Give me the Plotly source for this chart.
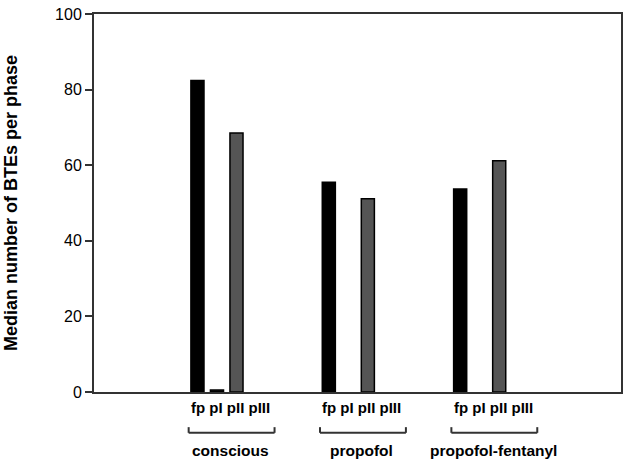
import plotly.graph_objects as go

groups = ["conscious", "propofol", "propofol-fentanyl"]
phases = ["fp", "pI", "pII", "pIII"]
values = {
    "fp":   [82.4, 55.5, 53.7],
    "pI":   [0.5, 0.0, 0.0],
    "pII":  [68.5, 51.1, 61.2],
    "pIII": [0.0, 0.0, 0.0],
}
phase_colors = {"fp": "#000000", "pI": "#000000", "pII": "#555555", "pIII": "#555555"}
y_ticks = [0, 20, 40, 60, 80, 100]

FONT = "Liberation Sans, Arial, Helvetica, sans-serif"
first = 5.3
gstep = 6.73

def pos(g, p):
    return first + g * gstep + p

fig = go.Figure()
for pi, ph in enumerate(phases):
    fig.add_trace(go.Bar(
        x=[pos(g, pi) for g in range(len(groups))],
        y=[v if v > 0 else None for v in values[ph]],
        width=0.67,
        marker=dict(color=phase_colors[ph], line=dict(color="#000000", width=1.5)),
        name=ph,
        showlegend=False,
    ))

shapes = []
annotations = []
lc = "#333333"
for g, name in enumerate(groups):
    x0 = pos(g, 0) - 0.45
    x1 = pos(g, 0) + 3.95
    yb, yt = -0.108, -0.093
    shapes.append(dict(type="line", xref="x", yref="paper", x0=x0, x1=x1, y0=yb, y1=yb,
                       line=dict(color=lc, width=2)))
    shapes.append(dict(type="line", xref="x", yref="paper", x0=x0, x1=x0, y0=yb, y1=yt,
                       line=dict(color=lc, width=2)))
    shapes.append(dict(type="line", xref="x", yref="paper", x0=x1, x1=x1, y0=yb, y1=yt,
                       line=dict(color=lc, width=2)))
    annotations.append(dict(text="<b>%s</b>" % " ".join(phases), xref="x", yref="paper",
                            x=pos(g, 0) + 1.7, y=-0.042, showarrow=False,
                            xanchor="center", yanchor="middle",
                            font=dict(family=FONT, size=15, color="#000000")))
    annotations.append(dict(text="<b>%s</b>" % name, xref="x", yref="paper",
                            x=(x0 + x1) / 2 - 0.05, y=-0.156, showarrow=False,
                            xanchor="center", yanchor="middle",
                            font=dict(family=FONT, size=15.5, color="#000000")))

fig.update_layout(
    width=628, height=461,
    margin=dict(l=94, r=7, t=14, b=69),
    paper_bgcolor="white", plot_bgcolor="white",
    barmode="overlay",
    font=dict(family=FONT, color="#000000"),
    shapes=shapes, annotations=annotations,
    xaxis=dict(range=[0, 27], showticklabels=False, automargin=False,
               ticks="", showgrid=False, zeroline=False,
               showline=True, linecolor=lc, linewidth=2, mirror=True),
    yaxis=dict(range=[0, 100], tickvals=y_ticks, automargin=False,
               tickfont=dict(family=FONT, size=16, color="#000000"),
               ticks="outside", ticklen=7, tickwidth=1.5, tickcolor=lc,
               showgrid=False, zeroline=False,
               showline=True, linecolor=lc, linewidth=2, mirror=True,
               title=dict(text="<b>Median number of BTEs per phase</b>",
                          font=dict(family=FONT, size=18, color="#000000"),
                          standoff=33)),
)

fig.write_html("out.html", config={"displayModeBar": False},
               post_script="document.body.style.margin='0';document.body.style.overflow='hidden';")
